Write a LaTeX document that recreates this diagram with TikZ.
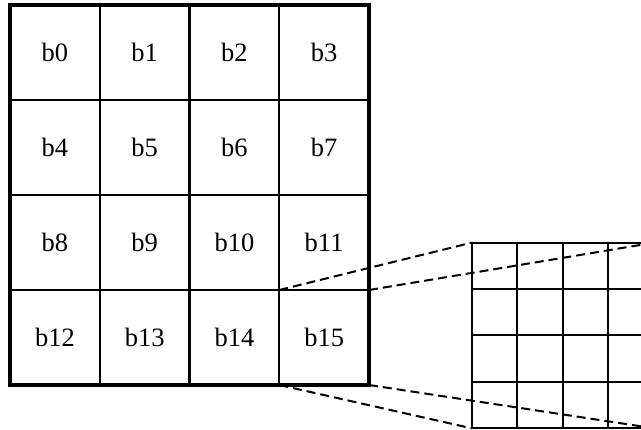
\documentclass[tikz,border=0pt]{standalone}
\usepackage{fontspec}
\setmainfont{Liberation Serif}
\usetikzlibrary{calc}
\begin{document}
\begin{tikzpicture}[x=1pt,y=-1pt,
  cell/.style={minimum width=89.75pt,minimum height=95pt,inner sep=0pt,outer sep=0pt,font=\fontsize{26.5}{30}\selectfont},
  gridthin/.style={line width=2.1pt},
  gridmid/.style={line width=2.7pt},
  gridborder/.style={line width=3.2pt},
  magbox/.style={draw,line width=2pt,minimum width=182.3pt,minimum height=185.6pt,inner sep=0pt,outer sep=0pt},
  maggrid/.style={line width=2pt},
  dashline/.style={line width=2pt,dash pattern=on 9pt off 5pt}]
\useasboundingbox (0,0) rectangle (641,430);
\clip (0,0) rectangle (641,430);
\foreach \i in {0,...,15}{
  \pgfmathtruncatemacro\c{mod(\i,4)}
  \pgfmathtruncatemacro\r{div(\i,4)}
  \node[cell] (b\i) at ({10+89.75*(\c+0.5)},{5+95*(\r+0.5)}) {b\i};
}
% big grid
\draw[gridthin] (b1.north west) -- (b13.south west);
\draw[gridthin] (b3.north west) -- (b15.south west);
\draw[gridthin] (b4.north west) -- (b7.north east);
\draw[gridthin] (b12.north west) -- (b15.north east);
\draw[gridmid] (b2.north west) -- (b14.south west);
\draw[gridmid] (b8.north west) -- (b11.north east);
\draw[gridborder] (b0.north west) rectangle (b15.south east);
% magnified grid
\node[magbox] (mag) at (562.85,335.5) {};
\foreach \f in {0.25,0.5,0.75}{
  \draw[maggrid] ($(mag.north west)!\f!(mag.north east)$) -- ($(mag.south west)!\f!(mag.south east)$);
  \draw[maggrid] ($(mag.north west)!\f!(mag.south west)$) -- ($(mag.north east)!\f!(mag.south east)$);
}
% dashed connectors
\draw[dashline] (b15.north west) -- (mag.north west);
\draw[dashline] (b15.north east) -- (mag.north east);
\draw[dashline] (b15.south west) -- (mag.south west);
\draw[dashline] (b15.south east) -- (mag.south east);
\end{tikzpicture}
\end{document}
